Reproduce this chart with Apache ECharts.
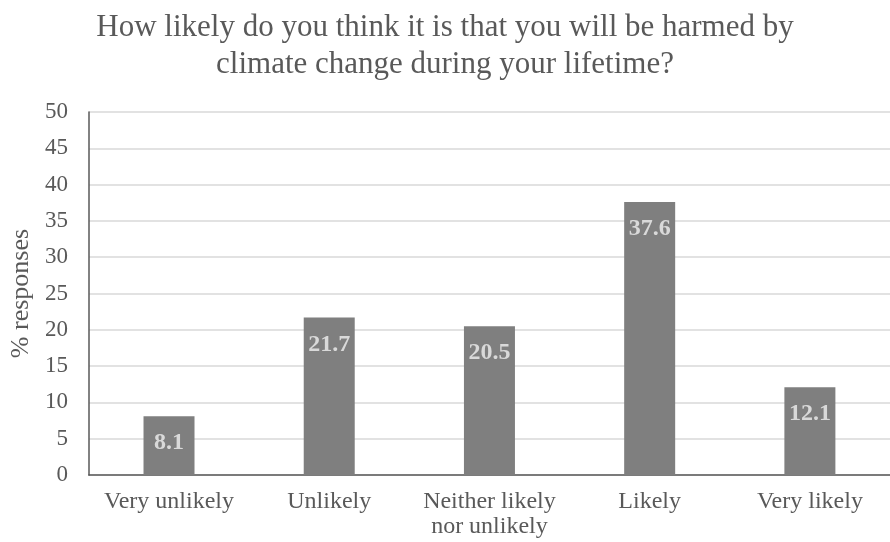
<!DOCTYPE html>
<html>
<head>
<meta charset="utf-8">
<script src="https://cdn.jsdelivr.net/npm/echarts@6/dist/echarts.min.js"></script>
<style>
  html, body { margin: 0; padding: 0; background: #fff; }
  #chart { width: 890px; height: 542px; }
</style>
</head>
<body>
<div id="chart"></div>
<script>
// Survey answers and their share of responses
const categories = ['Very unlikely', 'Unlikely', 'Neither likely\nnor unlikely', 'Likely', 'Very likely'];
const responses = [8.1, 21.7, 20.5, 37.6, 12.1];
const yTicks = { min: 0, max: 50, interval: 5 };

const serif = '"Liberation Serif", "Times New Roman", serif';
const chart = echarts.init(document.getElementById('chart'), null, { renderer: 'canvas' });

chart.setOption({
  animation: false,
  title: {
    text: 'How likely do you think it is that you will be harmed by\nclimate change during your lifetime?',
    left: 'center',
    top: 4,
    textStyle: {
      fontFamily: serif,
      fontSize: 31,
      fontWeight: 'normal',
      color: '#595959',
      lineHeight: 37
    }
  },
  grid: { left: 88, top: 112, width: 813, height: 363, containLabel: false },
  xAxis: {
    type: 'category',
    data: categories,
    axisLine: { show: true, lineStyle: { color: '#595959', width: 1.5 } },
    axisTick: { show: false },
    axisLabel: {
      fontFamily: serif,
      fontSize: 24,
      color: '#595959',
      margin: 14,
      lineHeight: 25,
      interval: 0
    }
  },
  yAxis: {
    type: 'value',
    min: yTicks.min,
    max: yTicks.max,
    interval: yTicks.interval,
    name: '% responses',
    nameLocation: 'middle',
    nameGap: 48,
    nameTextStyle: { fontFamily: serif, fontSize: 26, color: '#595959' },
    axisLine: { show: true, lineStyle: { color: '#595959', width: 1.5 } },
    axisTick: { show: false },
    splitLine: { show: true, lineStyle: { color: '#d9d9d9', width: 1.5 } },
    axisLabel: {
      fontFamily: serif,
      fontSize: 23,
      color: '#595959',
      margin: 21
    }
  },
  series: [{
    type: 'bar',
    data: responses,
    barWidth: 51,
    itemStyle: { color: '#7f7f7f' },
    label: {
      show: true,
      position: 'insideTop',
      distance: 15,
      fontFamily: serif,
      fontSize: 24,
      fontWeight: 'bold',
      color: '#d9d9d9'
    }
  }]
});
</script>
</body>
</html>
